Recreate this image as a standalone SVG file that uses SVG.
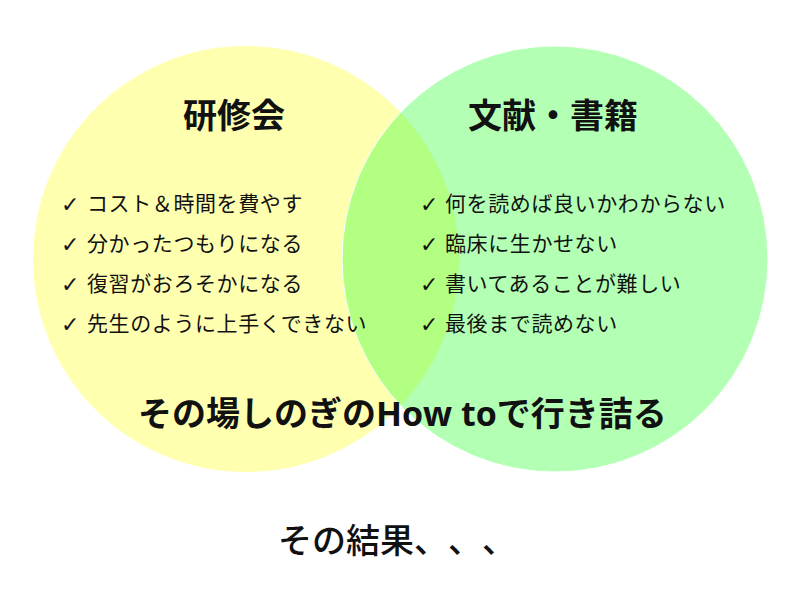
<svg xmlns="http://www.w3.org/2000/svg" width="800" height="604" viewBox="0 0 800 604">
<style>
.t{font-family:"Noto Sans CJK JP","Noto Sans",sans-serif;fill:#111}
.title{font-size:34px;font-weight:700}
.item{font-size:21px;letter-spacing:0.6px}
.chk{font-family:"DejaVu Sans",sans-serif;font-size:22px;font-weight:700}
.big{font-size:34px;font-weight:700}
.res{font-size:34px;font-weight:500}
</style>
<rect width="800" height="604" fill="#ffffff"/>
<g id="circle-kenshu">
<circle cx="246" cy="259" r="213" fill="#FFFFB0"/>
</g>
<g id="circle-bunken">
<circle cx="555" cy="259" r="213" fill="#B3FFB3"/>
</g>
<g id="overlap">
<path d="M400.5 112.4 A213 213 0 0 1 400.5 405.6 A213 213 0 0 1 400.5 112.4 Z" fill="#B3FF82"/>
<circle cx="555" cy="259" r="213" fill="none" stroke="#ffffff" stroke-width="1"/>
</g>
<g id="label-kenshu">
<text class="t title" x="183" y="128">研修会</text>
<text class="t item" x="61" y="212"><tspan class="chk">✓</tspan><tspan x="87" y="211">コスト＆時間を費やす</tspan></text>
<text class="t item" x="61" y="252"><tspan class="chk">✓</tspan><tspan x="87" y="251">分かったつもりになる</tspan></text>
<text class="t item" x="61" y="292"><tspan class="chk">✓</tspan><tspan x="87" y="291">復習がおろそかになる</tspan></text>
<text class="t item" x="61" y="332"><tspan class="chk">✓</tspan><tspan x="87" y="331">先生のように上手くできない</tspan></text>
</g>
<g id="label-bunken">
<text class="t title" x="468" y="128">文献・書籍</text>
<text class="t item" x="420" y="212"><tspan class="chk">✓</tspan><tspan x="445" y="211">何を読めば良いかわからない</tspan></text>
<text class="t item" x="420" y="252"><tspan class="chk">✓</tspan><tspan x="445" y="251">臨床に生かせない</tspan></text>
<text class="t item" x="420" y="292"><tspan class="chk">✓</tspan><tspan x="445" y="291">書いてあることが難しい</tspan></text>
<text class="t item" x="420" y="332"><tspan class="chk">✓</tspan><tspan x="445" y="331">最後まで読めない</tspan></text>
</g>
<g id="summary">
<text class="t big" x="138" y="426">その場しのぎの<tspan font-family="Open Sans, sans-serif">How to</tspan>で行き詰る</text>
</g>
<g id="result">
<text class="t res" x="278" y="553">その結果<tspan x="414">、</tspan><tspan x="448">、</tspan><tspan x="482">、</tspan></text>
</g>
<g id="connectors"></g>
</svg>
